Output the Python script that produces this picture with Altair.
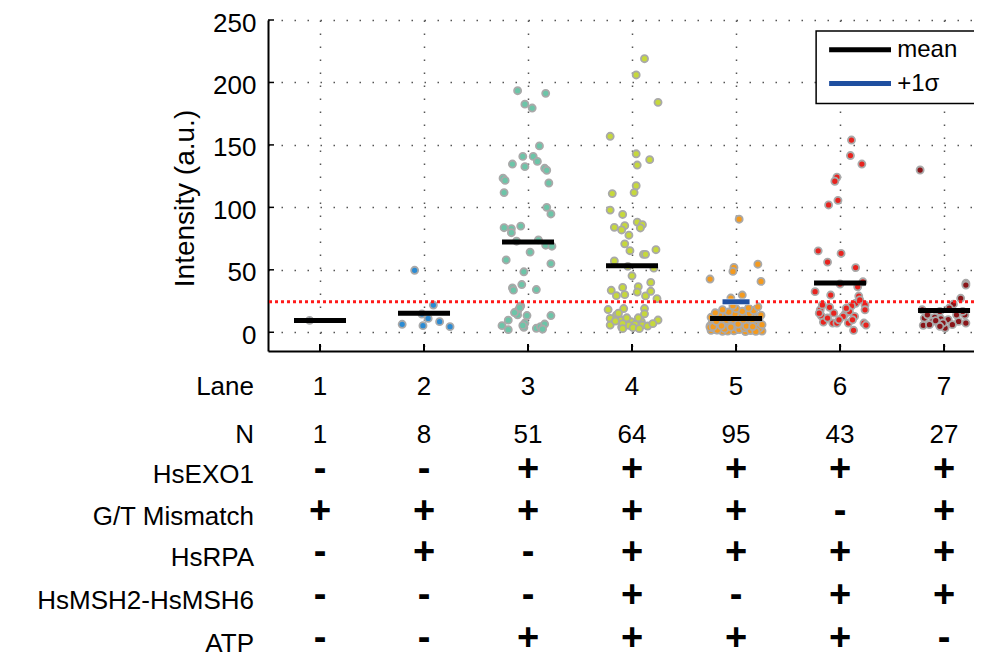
import altair as alt
import pandas as pd

FONT = "Liberation Sans"

# ---------------- data ----------------
lanes = [1, 2, 3, 4, 5, 6, 7]
lane_colors = ["#1c3f80", "#2b8bd3", "#6cc5a8", "#c6d83c", "#f49a1e", "#e8231e", "#8a1519"]
lane_means = [9.5, 15.2, 72.2, 53.3, 11.1, 39.5, 17.5]
lane5_plus_sigma = 24.4
red_threshold = 24.4

lane1_offset = [-0.10]
lane1_value = [9.5]

lane2_offset = [-0.09, 0.09, -0.02, 0.04, -0.21, -0.01, 0.15, 0.25]
lane2_value = [49.6, 21.8, 14.6, 11.1, 6.4, 5.3, 8.5, 4.5]

lane3_offset = [-0.10, 0.17, -0.03, 0.04, 0.11, -0.05, 0.05, 0.09, -0.15, -0.03,
                0.16, 0.18, -0.24, -0.22, 0.20, -0.23, 0.18, 0.22, -0.23, -0.16,
                -0.16, -0.07, -0.11, 0.17, 0.23, 0.02, -0.21, 0.22, -0.04, -0.06,
                -0.15, -0.14, 0.08, -0.07, -0.10, -0.10, -0.01, 0.22, -0.19, -0.25,
                -0.19, -0.03, -0.04, 0.08, 0.12, 0.16, 0.14, -0.13, -0.08, -0.05, 0.10]
lane3_value = [193.4, 191.3, 182.6, 179.5, 149.2, 140.8, 140.8, 136.8, 134.7, 132.6,
               131.3, 129.7, 123.4, 121.6, 119.5, 111.8, 100.0, 94.7, 83.7, 82.9,
               79.7, 85.0, 72.9, 69.7, 68.9, 64.2, 57.9, 55.0, 48.4, 38.2,
               35.5, 33.7, 34.2, 21.1, 17.1, 13.9, 13.4, 13.4, 9.7, 5.3,
               2.1, 7.4, 3.9, 3.2, 4.5, 6.6, 2.6, 15.8, 19.7, 5.5, 74.0]

lane4_offset = [0.12, 0.04, 0.25, -0.21, 0.04, 0.17, 0.05, 0.04, -0.19, 0.02,
                -0.21, -0.09, -0.07, -0.17, -0.10, 0.05, 0.10, 0.08, -0.03, -0.07,
                -0.02, 0.11, 0.13, 0.23, -0.17, -0.04, 0.21, 0.00, -0.20, -0.09,
                0.06, 0.18, -0.15, -0.07, 0.05, 0.13, 0.18, 0.24, -0.23, -0.08,
                0.12, -0.15, -0.13, 0.12, -0.21, -0.11, -0.01, 0.09, -0.21, -0.10,
                -0.03, 0.03, 0.10, 0.15, 0.25, -0.09, 0.01, 0.07, -0.13, -0.09,
                -0.05, 0.06, -0.16, 0.20]
lane4_value = [219.0, 206.0, 184.1, 156.9, 142.9, 138.2, 133.9, 117.3, 111.0, 111.8,
               97.8, 94.3, 85.3, 84.0, 81.9, 88.2, 86.1, 83.5, 77.7, 70.8,
               65.3, 62.4, 62.4, 66.1, 57.1, 52.8, 51.3, 45.2, 33.6, 35.9,
               36.5, 39.9, 29.3, 30.1, 32.2, 29.1, 32.8, 26.9, 18.2, 19.0,
               19.0, 13.7, 12.2, 14.8, 11.1, 9.5, 8.5, 8.5, 5.8, 4.2,
               5.5, 6.3, 5.8, 5.0, 9.8, 6.9, 3.7, 2.9, 15.3, 2.9,
               11.6, 11.6, 9.0, 6.9]

lane5_offset = [0.21, -0.02, -0.03, -0.25, 0.24, 0.06, -0.05, 0.03,
                -0.24, -0.19, -0.13, -0.08, -0.02, 0.04, 0.09, 0.15, 0.20, 0.25,
                -0.22, -0.16, -0.11, -0.05, 0.01, 0.06, 0.12, 0.17, 0.23, -0.20,
                -0.25, -0.17, -0.10, -0.04, 0.03, 0.08, 0.14, 0.19, 0.24, -0.14,
                -0.23, -0.15, -0.07, 0.00, 0.07, 0.13, 0.21, -0.12, 0.10, 0.18,
                -0.21, -0.09, -0.03, 0.05, 0.11, 0.16, 0.22, -0.18, 0.02, 0.20,
                -0.24, -0.12, -0.06, 0.04, 0.09, 0.15, 0.24, -0.16, -0.01, 0.13,
                -0.20, -0.07, 0.06, 0.17, -0.13, 0.00, 0.12, 0.21, -0.03,
                -0.18, -0.08, 0.03, 0.14, 0.22, -0.25, -0.11, 0.08, 0.19,
                -0.22, -0.14, -0.05, 0.02, 0.10, 0.16, 0.25, -0.19, 0.07]
lane5_value = [54.5, 51.9, 48.7, 42.6, 40.7, 29.8, 27.4, 90.5,
               1.5, 2.0, 0.8, 2.5, 1.2, 2.8, 0.6, 1.9, 2.4, 1.0,
               3.5, 4.2, 3.1, 4.8, 3.7, 4.4, 3.3, 4.9, 3.8, 5.5,
               5.1, 6.0, 5.6, 6.4, 5.3, 6.8, 5.9, 6.2, 5.7, 7.0,
               7.5, 7.9, 7.2, 8.3, 7.7, 8.0, 7.4, 8.6, 8.9, 8.2,
               9.2, 9.6, 10.1, 9.4, 10.5, 9.8, 10.3, 10.8, 11.2, 11.5,
               12.0, 12.4, 11.8, 12.9, 13.3, 12.6, 13.7, 14.2, 14.6, 15.1,
               15.6, 16.2, 16.8, 17.4, 18.1, 18.9, 19.6, 20.4, 21.3,
               1.8, 0.9, 2.2, 1.4, 3.0, 4.0, 2.7, 3.6, 0.7,
               4.5, 5.2, 4.1, 6.6, 5.0, 4.6, 6.1, 8.8, 9.9]

lane6_offset = [0.11, 0.10, 0.21, -0.03, -0.05, -0.02, -0.11, -0.21, 0.01, -0.12,
                0.15, 0.22, 0.00, 0.17, -0.24, -0.09, 0.18, 0.15, 0.24, 0.11,
                -0.19, -0.10, 0.24, -0.18, 0.05, 0.09, 0.14, -0.16, -0.07, -0.03,
                0.08, 0.23, 0.25, 0.13, 0.03, -0.01, 0.19, -0.20, -0.12, 0.06,
                -0.06, 0.12, -0.17]
lane6_value = [153.9, 141.5, 134.7, 124.1, 120.9, 105.6, 101.9, 65.2, 63.1, 56.2,
               51.8, 40.4, 38.6, 36.4, 32.5, 29.8, 29.0, 23.2, 21.9, 21.1,
               18.0, 20.0, 18.0, 13.2, 14.8, 16.6, 12.7, 8.2, 7.4, 7.4,
               7.4, 7.4, 5.8, 1.6, 12.7, 10.0, 25.9, 15.3, 11.4, 19.3,
               15.3, 10.0, 21.9]

lane7_offset = [-0.23, 0.21, 0.21, 0.16, 0.09, -0.21, -0.04, 0.20, -0.19, -0.09,
                -0.03, 0.04, 0.14, 0.21, -0.20, -0.11, -0.05, 0.01, -0.14, 0.08,
                -0.08, -0.01, -0.16, 0.12, 0.18, 0.05, -0.04]
lane7_value = [129.9, 39.2, 37.8, 27.2, 22.5, 18.0, 16.7, 14.0, 11.4, 11.9,
               10.8, 10.1, 8.7, 7.4, 5.6, 8.7, 6.6, 3.4, 6.1, 6.1,
               9.3, 7.4, 14.0, 14.0, 16.7, 19.3, 4.8]

row_labels = ["Lane", "N", "HsEXO1", "G/T Mismatch", "HsRPA", "HsMSH2-HsMSH6", "ATP"]
lane_text = ["1", "2", "3", "4", "5", "6", "7"]
n_text = ["1", "8", "51", "64", "95", "43", "27"]
hsexo1 = ["-", "-", "+", "+", "+", "+", "+"]
gt_mismatch = ["+", "+", "+", "+", "+", "-", "+"]
hsrpa = ["-", "+", "-", "+", "+", "+", "+"]
hsmsh = ["-", "-", "-", "+", "-", "+", "+"]
atp = ["-", "-", "+", "+", "+", "+", "-"]

MEAN_COLOR = "black"
SIGMA_COLOR = "#1f4fa0"

# ---------------- tables ----------------
all_offsets = [lane1_offset, lane2_offset, lane3_offset, lane4_offset,
               lane5_offset, lane6_offset, lane7_offset]
all_values = [lane1_value, lane2_value, lane3_value, lane4_value,
              lane5_value, lane6_value, lane7_value]
rows = []
for ln, offs, vals in zip(lanes, all_offsets, all_values):
    for o, v in zip(offs, vals):
        rows.append({"x": ln + o, "y": v, "lane": ln})
pts = pd.DataFrame(rows)

HALF = 0.25
means = pd.DataFrame({"lo": [l - HALF for l in lanes],
                      "hi": [l + HALF for l in lanes],
                      "y": lane_means})
sig_gap = pd.DataFrame({"lo": [5 - 0.19], "hi": [5 + 0.19], "y": [lane5_plus_sigma]})
sig = pd.DataFrame({"lo": [5 - 0.13], "hi": [5 + 0.13], "y": [lane5_plus_sigma]})
thr = pd.DataFrame({"y": [red_threshold]})

PLOT_H = 331
xscale = alt.Scale(domain=[0.5, 7.288], nice=False, zero=False)
yscale = alt.Scale(domain=[-15, 250], nice=False, zero=False)

grid_kw = dict(grid=True, gridColor="#555555", gridDash=[1.5, 11.5], gridWidth=1.5)
xaxis = alt.Axis(values=lanes, labels=False, ticks=False, title=None,
                 domain=True, domainColor="black", domainWidth=2, **grid_kw)
yaxis = alt.Axis(values=[0, 50, 100, 150, 200, 250], title="Intensity (a.u.)",
                 ticks=False, labelPadding=12, labelFontSize=26, labelFont=FONT,
                 labelColor="black", labelOffset=3,
                 titleFont=FONT, titleFontSize=28, titleFontWeight="normal",
                 titleColor="black", titleX=-75, titleY=178, titleAngle=270,
                 titleBaseline="alphabetic", titleAlign="center",
                 domain=True, domainColor="black", domainWidth=2, **grid_kw)

X = lambda f: alt.X(f, scale=xscale, axis=xaxis)
Y = lambda f: alt.Y(f, scale=yscale, axis=yaxis)

points = alt.Chart(pts).mark_circle(size=50, opacity=1, stroke="#a9a9a9", strokeWidth=1.8).encode(
    x=X("x:Q"), y=Y("y:Q"),
    color=alt.Color("lane:N", scale=alt.Scale(domain=lanes, range=lane_colors), legend=None),
)

red_line = alt.Chart(thr).mark_rule(color="#ff1a1a", strokeWidth=3, strokeDash=[3, 3]).encode(y=Y("y:Q"))

mean_lines = alt.Chart(means).mark_rule(color=MEAN_COLOR, strokeWidth=5).encode(
    x=X("lo:Q"), x2="hi:Q", y=Y("y:Q"))
gap_line = alt.Chart(sig_gap).mark_rule(color="white", strokeWidth=6).encode(
    x=X("lo:Q"), x2="hi:Q", y=Y("y:Q"))
sig_line = alt.Chart(sig).mark_rule(color=SIGMA_COLOR, strokeWidth=5).encode(
    x=X("lo:Q"), x2="hi:Q", y=Y("y:Q"))

# inward ticks
xticks = alt.Chart(pd.DataFrame({"lane": lanes})).mark_rule(color="black", strokeWidth=2).encode(
    x=X("lane:Q"), y=alt.value(PLOT_H), y2=alt.value(PLOT_H - 7))
yticks = alt.Chart(pd.DataFrame({"v": [0, 50, 100, 150, 200, 250]})).mark_rule(color="black", strokeWidth=1.5).encode(
    y=Y("v:Q"), x=alt.value(0), x2=alt.value(6))

# legend (drawn in data coordinates)
leg_box = alt.Chart(pd.DataFrame({"x": [5.77], "x2": [7.6], "y": [241.2], "y2": [183.2]})).mark_rect(
    fill="white", stroke="black", strokeWidth=1.5, clip=True).encode(
    x=X("x:Q"), x2="x2:Q", y=Y("y:Q"), y2="y2:Q")
leg_mean = pd.DataFrame({"x": [5.895], "x2": [6.49], "tx": [6.55], "y": [226.1], "label": ["mean"]})
leg_sig = pd.DataFrame({"x": [5.895], "x2": [6.49], "tx": [6.55], "y": [199.1], "label": ["+1σ"]})
leg_layers = []
for df, col in [(leg_mean, MEAN_COLOR), (leg_sig, SIGMA_COLOR)]:
    leg_layers.append(alt.Chart(df).mark_rule(strokeWidth=5, color=col).encode(
        x=X("x:Q"), x2="x2:Q", y=Y("y:Q")))
    leg_layers.append(alt.Chart(df).mark_text(align="left", baseline="middle", font=FONT,
                                              fontSize=24, color="black").encode(
        x=X("tx:Q"), y=Y("y:Q"), text="label:N"))

# table below the plot
table_rows = [lane_text, n_text, hsexo1, gt_mismatch, hsrpa, hsmsh, atp]
label_y = [367, 415, 455, 497, 538, 581, 624]
cell_y = [367, 415, 450, 492, 533, 576, 619]
table_layers = []
for i, (lab, vals) in enumerate(zip(row_labels, table_rows)):
    table_layers.append(
        alt.Chart(pd.DataFrame({"t": [lab]})).mark_text(
            align="right", baseline="middle", font=FONT, fontSize=26, color="black").encode(
            x=alt.value(-14), y=alt.value(label_y[i]), text="t:N"))
    sign = i >= 2
    table_layers.append(
        alt.Chart(pd.DataFrame({"lane": lanes, "t": vals})).mark_text(
            align="center", baseline="middle", font=FONT,
            fontSize=38 if sign else 26, fontWeight="bold" if sign else "normal",
            color="black").encode(
            x=X("lane:Q"), y=alt.value(cell_y[i]), text="t:N"))

chart = alt.layer(
    points, red_line, gap_line, sig_line, mean_lines, xticks, yticks,
    leg_box, *leg_layers, *table_layers
).properties(
    width=706, height=PLOT_H,
    autosize=alt.AutoSizeParams(type="none"),
    padding={"left": 260, "top": 12, "right": 0, "bottom": 307},
).configure_view(stroke=None)

chart.save("out.html", embed_options={"renderer": "svg", "actions": False})
